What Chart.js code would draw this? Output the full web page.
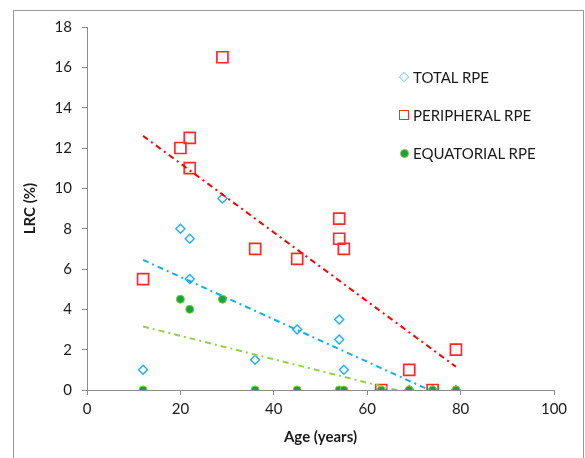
<!DOCTYPE html>
<html>
<head>
<meta charset="utf-8">
<script src="https://cdn.jsdelivr.net/npm/chart.js@4.4.0/dist/chart.umd.min.js"></script>
<style>
  body { margin: 0; background: #fff; }
  #wrap { position: relative; width: 585px; height: 458px; overflow: hidden; font-family: Lato, sans-serif; }
  #frame { position: absolute; left: 13px; top: 10px; width: 571px; height: 470px; border: 1px solid #999; box-sizing: border-box; }
  #chart { position: absolute; left: 0; top: 0; }
  .item { position: absolute; left: 396px; height: 18px; line-height: 18px; font-size: 15px; color: #1a1a1a; white-space: nowrap; }
  .item .mark { position: absolute; left: 3px; top: 4px; width: 10px; height: 10px; box-sizing: border-box; }
  .item .label { position: absolute; left: 17px; top: 0; }
</style>
</head>
<body>
<div id="wrap">
  <div id="frame"></div>
  <canvas id="chart" width="585" height="458"></canvas>
  <div id="legend"></div>
</div>
<script>
const seriesNames = ['TOTAL RPE', 'PERIPHERAL RPE', 'EQUATORIAL RPE']

const totalAge = [12, 20, 22, 22, 29, 36, 45, 54, 54, 55, 63, 69, 74, 79]
const totalRpe = [1, 8, 7.5, 5.5, 9.5, 1.5, 3, 3.5, 2.5, 1, 0, 0, 0, 0]

const peripheralAge = [12, 20, 22, 22, 29, 36, 45, 54, 54, 55, 63, 69, 74, 79]
const peripheralRpe = [5.5, 12, 12.5, 11, 16.5, 7, 6.5, 8.5, 7.5, 7, 0, 1, 0, 2]

const equatorialAge = [12, 20, 22, 29, 36, 45, 54, 55, 63, 69, 74, 79]
const equatorialRpe = [0, 4.5, 4, 4.5, 0, 0, 0, 0, 0, 0, 0, 0]

// trendline ends (first and last age)
const trendAge = [12, 79]
const totalTrend = [6.45, -0.6]
const peripheralTrend = [12.6, 1.15]
const equatorialTrend = [3.15, -0.74]

const xTicks = [0, 20, 40, 60, 80, 100]
const yTicks = [0, 2, 4, 6, 8, 10, 12, 14, 16, 18]

const toPoints = (xs, ys) => xs.map((x, i) => ({x: x, y: ys[i]}))

const tickFont = {family: 'Lato', size: 15}
const titleFont = {family: 'Lato', size: 15, weight: 'bold'}
const axisGrey = '#8c8c8c'
const textColor = '#1a1a1a'

const datasets = [
    {
        label: seriesNames[0],
        data: toPoints(totalAge, totalRpe),
        pointStyle: 'rectRot',
        pointRadius: 4.5,
        pointBackgroundColor: '#fff',
        pointBorderColor: '#1fb0f0',
        pointBorderWidth: 1.4,
        order: 3
    },
    {
        label: seriesNames[1],
        data: toPoints(peripheralAge, peripheralRpe),
        pointStyle: 'rect',
        pointRadius: 7.8,
        pointBackgroundColor: 'rgba(255,255,255,0)',
        pointBorderColor: '#ff2a2a',
        pointBorderWidth: 1.7,
        order: 2
    },
    {
        label: seriesNames[2],
        data: toPoints(equatorialAge, equatorialRpe),
        pointStyle: 'circle',
        pointRadius: 4,
        pointBackgroundColor: '#12a43e',
        pointBorderColor: '#8dc63f',
        pointBorderWidth: 1,
        order: 1
    },
    {
        label: 'total trend',
        data: toPoints(trendAge, totalTrend),
        showLine: true,
        pointRadius: 0,
        borderColor: '#10aeef',
        borderWidth: 2,
        borderDash: [6, 4, 2, 4],
        clip: 0,
        order: 0
    },
    {
        label: 'peripheral trend',
        data: toPoints(trendAge, peripheralTrend),
        showLine: true,
        pointRadius: 0,
        borderColor: '#ff0000',
        borderWidth: 2,
        borderDash: [6, 4, 2, 4],
        clip: 0,
        order: 0
    },
    {
        label: 'equatorial trend',
        data: toPoints(trendAge, equatorialTrend),
        showLine: true,
        pointRadius: 0,
        borderColor: '#92d050',
        borderWidth: 2,
        borderDash: [6, 4, 2, 4],
        clip: 0,
        order: 0
    }
]

const setLegend = () => {
    const legend = document.getElementById('legend')
    const tops = [68, 106, 144]
    const marks = [
        'border:1.5px solid #1fb0f0;background:#fff;transform:rotate(45deg) scale(0.72);',
        'border:1.5px solid #ff2a2a;background:#fff;',
        'background:#12a43e;border:1px solid #8dc63f;border-radius:50%;width:9px;height:9px;top:4.5px;left:3.5px;'
    ]
    seriesNames.forEach((name, i) => {
        const item = document.createElement('div')
        item.className = 'item'
        item.style.top = tops[i] + 'px'
        item.innerHTML = `<span class="mark" style="${marks[i]}"></span><span class="label">${name}</span>`
        legend.appendChild(item)
    })
}

const setChart = () => {
    const ctx = document.getElementById('chart')

    new Chart(ctx, {
        type: 'scatter',
        data: {datasets: datasets},
        options: {
            responsive: false,
            animation: false,
            layout: {padding: {left: 14, top: 27, right: 31, bottom: 0}},
            plugins: {
                legend: {display: false},
                tooltip: {enabled: false}
            },
            scales: {
                x: {
                    type: 'linear',
                    min: xTicks[0],
                    max: xTicks[xTicks.length - 1],
                    afterBuildTicks: (scale) => { scale.ticks = xTicks.map(v => ({value: v})) },
                    ticks: {font: tickFont, color: textColor, padding: 5, maxRotation: 0},
                    grid: {drawOnChartArea: false, tickLength: 5, color: axisGrey},
                    border: {color: axisGrey},
                    title: {display: true, text: 'Age (years)', font: titleFont, color: textColor, padding: {top: 0, bottom: 12}},
                    afterFit: (scale) => { scale.height = 68 }
                },
                y: {
                    type: 'linear',
                    min: yTicks[0],
                    max: yTicks[yTicks.length - 1],
                    afterBuildTicks: (scale) => { scale.ticks = yTicks.map(v => ({value: v})) },
                    ticks: {font: tickFont, color: textColor, padding: 10},
                    grid: {drawOnChartArea: false, tickLength: 5, color: axisGrey},
                    border: {color: axisGrey},
                    title: {display: true, text: 'LRC (%)', font: titleFont, color: textColor, padding: {top: 7, bottom: 0}},
                    afterFit: (scale) => { scale.width = 73 }
                }
            }
        }
    })
}

setChart()
setLegend()
</script>
</body>
</html>
